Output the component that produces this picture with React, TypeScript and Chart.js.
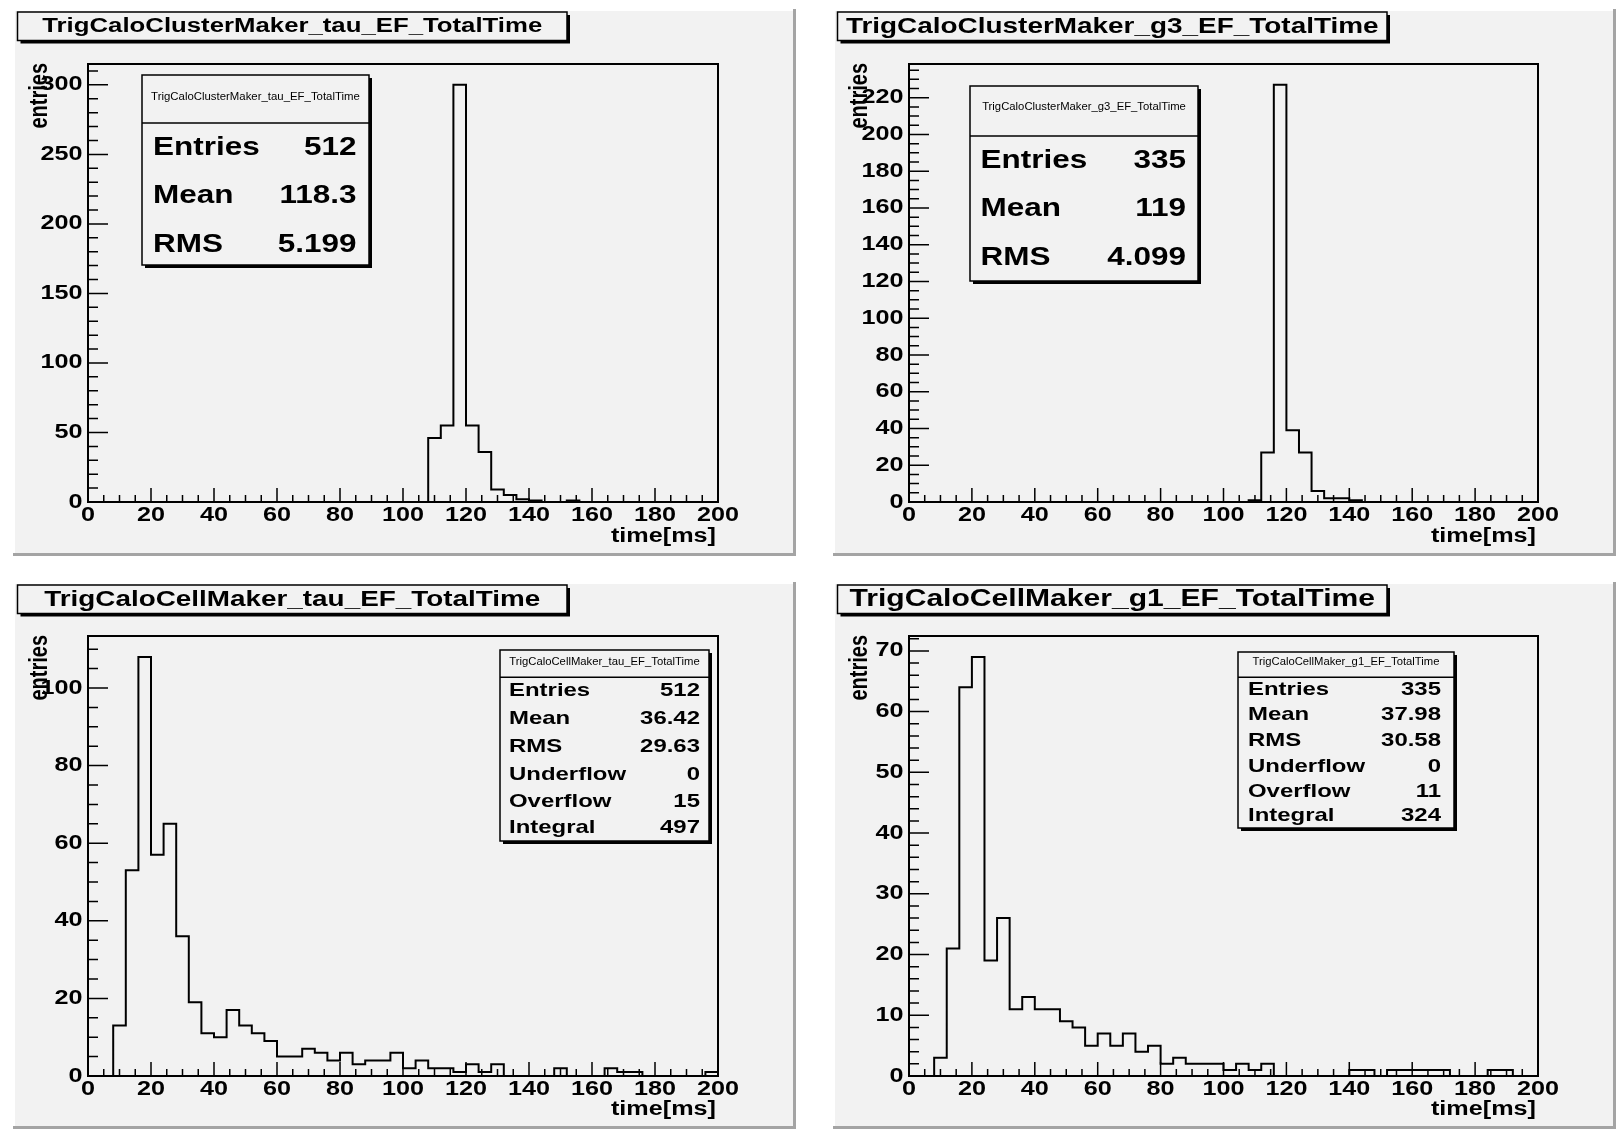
import React, { useEffect, useRef } from 'react';
import { Chart, registerables } from 'chart.js';

Chart.register(...registerables);

// ---------------- data ----------------
const X_MIN = 0;
const X_MAX = 200;
const BIN_WIDTH = 4;
const X_MINOR_STEP = 5;

const xTickValues = [0, 20, 40, 60, 80, 100, 120, 140, 160, 180, 200];
const xTickLabels = ['0', '20', '40', '60', '80', '100', '120', '140', '160', '180', '200'];

const panelTitles = [
  'TrigCaloClusterMaker_tau_EF_TotalTime',
  'TrigCaloClusterMaker_g3_EF_TotalTime',
  'TrigCaloCellMaker_tau_EF_TotalTime',
  'TrigCaloCellMaker_g1_EF_TotalTime',
];

// 50 bins of 4 ms, 0..200 ms
const tauClusterCounts = [
  0, 0, 0, 0, 0, 0, 0, 0, 0, 0,
  0, 0, 0, 0, 0, 0, 0, 0, 0, 0,
  0, 0, 0, 0, 0, 0, 0, 46, 55, 300,
  55, 36, 9, 5, 2, 1, 0, 0, 1, 0,
  0, 0, 0, 0, 0, 0, 0, 0, 0, 0,
];
const g3ClusterCounts = [
  0, 0, 0, 0, 0, 0, 0, 0, 0, 0,
  0, 0, 0, 0, 0, 0, 0, 0, 0, 0,
  0, 0, 0, 0, 0, 0, 0, 1, 27, 227,
  39, 27, 6, 2, 2, 1, 0, 0, 0, 0,
  0, 0, 0, 0, 0, 0, 0, 0, 0, 0,
];
const tauCellCounts = [
  0, 0, 13, 53, 108, 57, 65, 36, 19, 11,
  10, 17, 13, 11, 9, 5, 5, 7, 6, 4,
  6, 3, 4, 4, 6, 2, 4, 2, 2, 1,
  3, 1, 3, 0, 0, 0, 0, 2, 0, 0,
  0, 2, 1, 1, 0, 0, 0, 0, 0, 1,
];
const g1CellCounts = [
  0, 0, 3, 21, 64, 69, 19, 26, 11, 13,
  11, 11, 9, 8, 5, 7, 5, 7, 4, 5,
  2, 3, 2, 2, 2, 1, 2, 1, 2, 0,
  0, 0, 0, 0, 0, 1, 1, 0, 1, 1,
  1, 1, 1, 0, 0, 0, 1, 1, 0, 0,
];

const yTicksTauCluster = [0, 50, 100, 150, 200, 250, 300];
const yTicksG3Cluster = [0, 20, 40, 60, 80, 100, 120, 140, 160, 180, 200, 220];
const yTicksTauCell = [0, 20, 40, 60, 80, 100];
const yTicksG1Cell = [0, 10, 20, 30, 40, 50, 60, 70];
const yMinorSteps = [10, 5, 5, 2];

const statsLabelsShort = ['Entries', 'Mean', 'RMS'];
const statsLabelsLong = ['Entries', 'Mean', 'RMS', 'Underflow', 'Overflow', 'Integral'];
const statsTauCluster = ['512', '118.3', '5.199'];
const statsG3Cluster = ['335', '119', '4.099'];
const statsTauCell = ['512', '36.42', '29.63', '0', '15', '497'];
const statsG1Cell = ['335', '37.98', '30.58', '0', '11', '324'];

const xAxisTitle = 'time[ms]';
const yAxisTitle = 'entries';

// ---------------- layout / style ----------------
const PAD_W = 783;
const PAD_H = 547;
const PAD_FILL = '#f2f2f2';
const FONT = '"Liberation Sans", Arial, Helvetica, sans-serif';
const STRETCH = 1.26;

const panels = [
  {
    title: panelTitles[0], counts: tauClusterCounts, yTicks: yTicksTauCluster, yMinor: yMinorSteps[0],
    statLabels: statsLabelsShort, statValues: statsTauCluster,
    left: 13, top: 9, frame: { left: 75, right: 705, top: 55, bottom: 493 },
    titleWidth: 500,
    stats: { x1: 129, y1: 66, x2: 356, y2: 256, divider: 114, titleY: 88, titleW: 209, rows: [139, 187, 236], labelX: 140, valueX: 343.5, size: 25 },
  },
  {
    title: panelTitles[1], counts: g3ClusterCounts, yTicks: yTicksG3Cluster, yMinor: yMinorSteps[1],
    statLabels: statsLabelsShort, statValues: statsG3Cluster,
    left: 833, top: 9, frame: { left: 76, right: 705, top: 55, bottom: 493 },
    titleWidth: 533,
    stats: { x1: 137, y1: 77, x2: 365, y2: 272, divider: 127, titleY: 98, titleW: 204, rows: [152, 200, 249], labelX: 147.5, valueX: 353, size: 25 },
  },
  {
    title: panelTitles[2], counts: tauCellCounts, yTicks: yTicksTauCell, yMinor: yMinorSteps[2],
    statLabels: statsLabelsLong, statValues: statsTauCell,
    left: 13, top: 582, frame: { left: 75, right: 705, top: 54, bottom: 494 },
    titleWidth: 496,
    stats: { x1: 487, y1: 68, x2: 696, y2: 259, divider: 95.3, titleY: 80, titleW: 191, rows: [109, 136.4, 164.5, 192.9, 219.4, 245.7], labelX: 496, valueX: 687, size: 19 },
  },
  {
    title: panelTitles[3], counts: g1CellCounts, yTicks: yTicksG1Cell, yMinor: yMinorSteps[3],
    statLabels: statsLabelsLong, statValues: statsG1Cell,
    left: 833, top: 582, frame: { left: 76, right: 705, top: 54, bottom: 494 },
    titleWidth: 526,
    stats: { x1: 405, y1: 70, x2: 621, y2: 246, divider: 95.3, titleY: 80, titleW: 187, rows: [107.3, 132.8, 159, 184.5, 210, 234], labelX: 415, valueX: 608, size: 19 },
  },
];

type TextOpts = { size: number; align?: CanvasTextAlign; weight?: string; fitWidth?: number; rotate?: boolean; stretch?: number };

function drawText(ctx: CanvasRenderingContext2D, str: string, x: number, y: number, opts: TextOpts) {
  const { size, align = 'left', weight = 'bold', fitWidth, rotate = false, stretch = STRETCH } = opts;
  ctx.save();
  let s = size;
  ctx.font = `${weight} ${s}px ${FONT}`;
  if (fitWidth) {
    const w = ctx.measureText(str).width * stretch;
    s = (size * fitWidth) / w;
    ctx.font = `${weight} ${s}px ${FONT}`;
  }
  ctx.translate(x, y);
  ctx.scale(stretch, 1);
  if (rotate) ctx.rotate(-Math.PI / 2);
  ctx.textAlign = align;
  ctx.textBaseline = 'middle';
  ctx.fillStyle = '#000';
  ctx.fillText(str, 0, 0);
  ctx.restore();
}

function drawShadowBox(ctx: CanvasRenderingContext2D, x1: number, y1: number, x2: number, y2: number) {
  const sh = 3;
  ctx.save();
  ctx.fillStyle = '#000';
  ctx.fillRect(x1 + sh, y1 + sh, x2 - x1, y2 - y1);
  ctx.fillStyle = PAD_FILL;
  ctx.fillRect(x1, y1, x2 - x1, y2 - y1);
  ctx.strokeStyle = '#000';
  ctx.lineWidth = 1.5;
  ctx.strokeRect(x1, y1, x2 - x1, y2 - y1);
  ctx.restore();
}

function makePlugin(p: any) {
  return {
    id: 'rootStyle',
    beforeDraw(chart: any) {
      const ctx: CanvasRenderingContext2D = chart.ctx;
      ctx.save();
      ctx.fillStyle = PAD_FILL;
      ctx.fillRect(0, 0, PAD_W, PAD_H);
      ctx.fillStyle = '#ffffff';
      ctx.fillRect(0, 0, PAD_W, 2);
      ctx.fillRect(0, 0, 2, PAD_H);
      ctx.fillStyle = '#a4a4a4';
      ctx.fillRect(PAD_W - 3, 0, 3, PAD_H);
      ctx.fillRect(0, PAD_H - 3, PAD_W, 3);
      ctx.restore();
    },
    afterDatasetsDraw(chart: any) {
      const ctx: CanvasRenderingContext2D = chart.ctx;
      const a = chart.chartArea;
      const xs = chart.scales.x;
      const ys = chart.scales.y;
      ctx.save();
      ctx.strokeStyle = '#000';
      ctx.lineWidth = 1.5;
      ctx.beginPath();
      for (let v = X_MIN; v <= X_MAX + 1e-9; v += X_MINOR_STEP) {
        const px = xs.getPixelForValue(v);
        const len = xTickValues.includes(v) ? 14 : 7;
        ctx.moveTo(px, a.bottom);
        ctx.lineTo(px, a.bottom - len);
      }
      for (let v = 0; v <= ys.max + 1e-9; v += p.yMinor) {
        const py = ys.getPixelForValue(v);
        const len = p.yTicks.includes(v) ? 20 : 10;
        ctx.moveTo(a.left, py);
        ctx.lineTo(a.left + len, py);
      }
      ctx.stroke();
      ctx.lineWidth = 2;
      ctx.strokeRect(a.left, a.top, a.right - a.left, a.bottom - a.top);
      ctx.restore();

      xTickValues.forEach((v, i) => {
        drawText(ctx, xTickLabels[i], xs.getPixelForValue(v), a.bottom + 13, { size: 20, align: 'center' });
      });
      p.yTicks.forEach((v: number) => {
        drawText(ctx, String(v), a.left - 5.5, ys.getPixelForValue(v), { size: 20, align: 'right' });
      });
      drawText(ctx, xAxisTitle, a.right - 2, 527.5, { size: 20, align: 'right' });
      drawText(ctx, yAxisTitle, 27, a.top - 1, { size: 20, align: 'right', rotate: true });
    },
    afterDraw(chart: any) {
      const ctx: CanvasRenderingContext2D = chart.ctx;
      // title box
      drawShadowBox(ctx, 4.5, 3, 554, 31.5);
      drawText(ctx, p.title, (4.5 + 554) / 2, 17.5, { size: 20, align: 'center', fitWidth: p.titleWidth });
      // stats box
      const s = p.stats;
      drawShadowBox(ctx, s.x1, s.y1, s.x2, s.y2);
      ctx.save();
      ctx.strokeStyle = '#000';
      ctx.lineWidth = 1.5;
      ctx.beginPath();
      ctx.moveTo(s.x1, s.divider);
      ctx.lineTo(s.x2, s.divider);
      ctx.stroke();
      ctx.restore();
      drawText(ctx, p.title, (s.x1 + s.x2) / 2, s.titleY, { size: 9, align: 'center', weight: 'normal', fitWidth: s.titleW, stretch: 1.1 });
      p.statLabels.forEach((lab: string, i: number) => {
        drawText(ctx, lab, s.labelX, s.rows[i], { size: s.size, align: 'left' });
        drawText(ctx, p.statValues[i], s.valueX, s.rows[i], { size: s.size, align: 'right' });
      });
    },
  };
}

function HistPanel({ p }: { p: any }) {
  const ref = useRef<HTMLCanvasElement | null>(null);
  useEffect(() => {
    if (!ref.current) return;
    const counts: number[] = p.counts;
    const points = counts.map((c, i) => ({ x: X_MIN + i * BIN_WIDTH, y: c }));
    points.push({ x: X_MAX, y: 0 });
    const yMax = 1.05 * Math.max(...counts);
    const f = p.frame;
    const chart = new Chart(ref.current, {
      type: 'line',
      data: {
        datasets: [
          {
            label: p.title,
            data: points,
            stepped: 'before',
            borderColor: '#000',
            borderWidth: 2,
            pointRadius: 0,
            fill: false,
            tension: 0,
          } as any,
        ],
      },
      options: {
        animation: false,
        responsive: false,
        maintainAspectRatio: false,
        events: [],
        layout: { padding: { left: f.left, top: f.top, right: PAD_W - f.right, bottom: PAD_H - f.bottom } },
        plugins: { legend: { display: false }, tooltip: { enabled: false }, title: { display: false } },
        scales: {
          x: { type: 'linear', min: X_MIN, max: X_MAX, display: false },
          y: { type: 'linear', min: 0, max: yMax, display: false },
        },
      } as any,
      plugins: [makePlugin(p)],
    });
    return () => chart.destroy();
  }, [p]);
  return (
    <canvas
      ref={ref}
      width={PAD_W}
      height={PAD_H}
      style={{ position: 'absolute', left: p.left, top: p.top, width: PAD_W, height: PAD_H }}
    />
  );
}

export default function App() {
  return (
    <div style={{ position: 'absolute', left: 0, top: 0, width: 1620, height: 1131, background: '#ffffff', overflow: 'hidden' }}>
      {panels.map((p, i) => (
        <HistPanel key={i} p={p} />
      ))}
    </div>
  );
}
